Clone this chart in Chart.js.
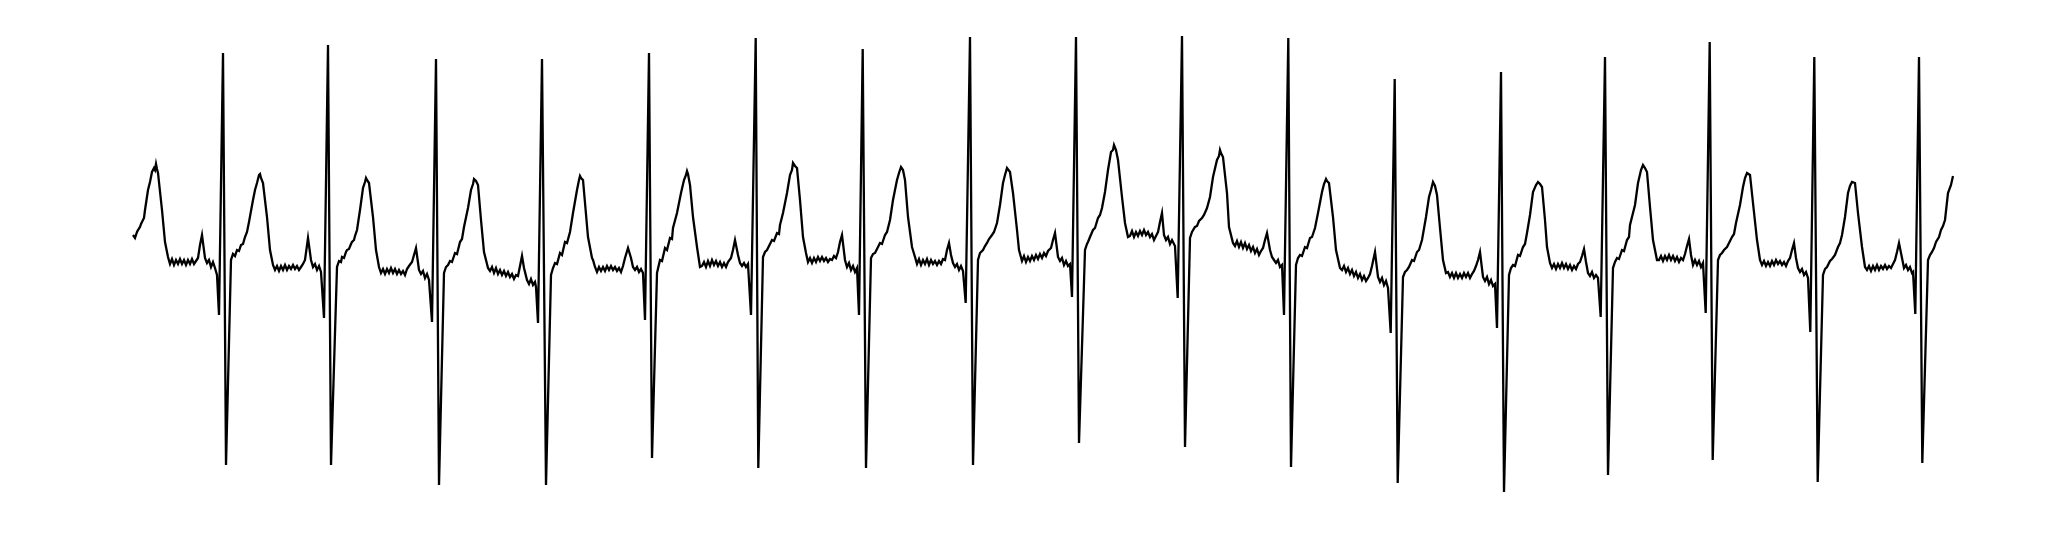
<!DOCTYPE html>
<html>
<head>
    <title>ECG trace</title>
    <script src="https://cdn.jsdelivr.net/npm/chart.js"></script>
    <style>
        html, body {
            margin: 0;
            padding: 0;
            background-color: #ffffff;
        }
        #wrap {
            width: 2046px;
            height: 538px;
        }
    </style>
</head>
<body>
<div id="wrap"><canvas id="ecg" width="2046" height="538"></canvas></div>
<script>
// each point is [sample, amplitude], amplitude 0 ~ isoelectric line
var leadIn = [[0,35],[2,32],[4,38],[5,40],[7,43],[8,46],[9,48],[11,52],[12,60],[15,80],[17,88],[19,98],[21,102],[22,100],[23,106],[24,101],[25,97],[29,60],[32,28],[35,13],[37,6],[39,11],[41,5],[43,10],[45,6],[47,11],[49,6],[51,10],[53,5],[55,10],[57,6],[59,11],[61,6],[63,9],[65,12],[67,25],[69,35],[72,12],[74,7],[76,10],[78,3],[80,8],[82,2],[84,-5],[86,-45],[90,217],[93,-195]];
var cycle01 = [[98,10],[100,16],[102,14],[104,20],[106,19],[108,25],[110,26],[112,33],[114,38],[116,48],[120,70],[122,80],[124,87],[126,95],[127,96],[128,92],[130,87],[134,53],[137,20],[140,5],[142,0],[144,4],[146,-1],[148,4],[150,0],[152,5],[154,0],[156,4],[158,1],[160,5],[162,1],[164,4],[166,0],[168,3],[170,6],[172,10],[175,32],[178,10],[180,3],[182,6],[184,0],[186,4],[188,-2],[191,-48],[195,225],[198,-195]];
var cycle02 = [[204,3],[206,9],[208,8],[209,13],[211,12],[213,18],[214,20],[216,21],[218,26],[219,28],[221,30],[222,34],[224,40],[227,60],[230,82],[232,88],[233,92],[234,90],[236,87],[240,53],[243,20],[246,3],[248,-3],[250,1],[252,-4],[254,1],[256,-3],[258,2],[260,-3],[262,1],[264,-4],[266,0],[268,-4],[270,-1],[272,-5],[274,1],[276,4],[279,8],[281,15],[283,22],[286,0],[288,-4],[290,-1],[292,-8],[294,-4],[296,-10],[299,-52],[303,211],[306,-215]];
var cycle03 = [[311,-3],[313,3],[315,5],[317,9],[319,8],[322,17],[324,16],[326,24],[327,28],[329,31],[331,43],[335,62],[338,80],[340,86],[341,91],[343,89],[345,85],[348,50],[351,18],[355,2],[357,-1],[359,3],[361,-3],[363,2],[365,-4],[367,0],[369,-5],[371,-1],[373,-6],[375,-2],[377,-7],[379,-4],[381,-9],[383,-5],[385,-6],[387,4],[389,14],[391,2],[394,-10],[396,-14],[398,-9],[400,-15],[402,-12],[403,-17],[405,-53],[409,211],[413,-215]];
var cycle04 = [[418,-5],[420,2],[422,7],[424,6],[427,17],[429,15],[432,28],[434,27],[437,38],[440,57],[444,80],[446,90],[447,94],[448,92],[450,90],[455,33],[459,12],[460,10],[462,3],[464,-2],[466,3],[468,-1],[470,3],[472,-1],[474,4],[476,0],[478,4],[480,0],[482,3],[484,-1],[486,2],[488,-2],[490,4],[492,12],[495,22],[498,12],[500,3],[502,0],[504,3],[506,-2],[508,1],[510,-3],[512,-50],[516,217],[519,-188]];
var cycle05 = [[524,-3],[527,10],[529,9],[532,22],[534,20],[537,32],[539,31],[540,42],[544,57],[548,77],[551,90],[553,95],[554,99],[555,96],[557,85],[560,53],[564,23],[567,3],[569,4],[571,8],[573,3],[575,9],[577,4],[579,10],[581,5],[583,9],[585,4],[587,8],[589,3],[591,7],[593,3],[595,8],[598,12],[600,20],[602,30],[605,15],[607,7],[609,4],[611,7],[613,3],[615,6],[618,-45],[622.7,232],[625.3,-198]];
var cycle06 = [[630,13],[632,18],[634,20],[636,24],[639,30],[641,29],[644,37],[646,36],[647,45],[650,57],[654,77],[657,95],[659,100],[660,107],[662,104],[664,102],[667,70],[670,33],[673,17],[675,8],[677,12],[679,7],[681,12],[683,8],[685,13],[687,9],[689,13],[691,9],[693,12],[695,8],[697,11],[699,10],[701,14],[703,12],[705,18],[707,28],[709,35],[712,10],[714,3],[716,7],[718,0],[720,4],[722,-2],[724,2],[726,-45],[729.7,221],[733,-198]];
var cycle07 = [[738,12],[740,16],[742,17],[744,21],[747,27],[749,26],[752,35],[754,38],[757,50],[760,70],[764,90],[766,97],[768,103],[770,100],[772,90],[775,53],[779,23],[782,13],[784,6],[786,11],[788,5],[790,10],[792,6],[794,11],[796,5],[798,10],[800,6],[802,9],[804,5],[806,9],[808,6],[810,11],[812,10],[814,20],[816,27],[818,15],[820,7],[822,3],[824,6],[826,0],[828,4],[830,-1],[832.7,-33],[837,233],[840,-195]];
var cycle08 = [[845,10],[847,17],[850,20],[852,24],[854,27],[856,31],[859,35],[861,38],[864,47],[867,65],[870,87],[872,95],[874,102],[877,98],[880,77],[884,40],[886,20],[889,9],[891,14],[893,8],[895,13],[897,9],[899,14],[901,10],[903,15],[905,11],[907,16],[909,12],[911,17],[913,14],[915,19],[918,22],[920,30],[922,37],[925,13],[927,9],[929,12],[931,5],[933,9],[935,4],[937,6],[939,-27],[943,233],[946,-173]];
var cycle09 = [[952,20],[954,26],[955,28],[957,33],[960,40],[962,42],[965,52],[967,55],[969,62],[972,78],[975,100],[978,118],[980,120],[981,125],[983,120],[985,110],[989,73],[992,47],[995,33],[997,34],[999,39],[1001,33],[1003,38],[1005,34],[1007,39],[1009,35],[1011,40],[1013,35],[1015,38],[1017,33],[1019,36],[1021,30],[1023,34],[1025,38],[1027,48],[1029,57],[1031,35],[1033,30],[1035,33],[1037,26],[1039,30],[1042,24],[1044.7,-28],[1049,234],[1052,-177]];
var cycle10 = [[1057,32],[1059,38],[1062,43],[1064,44],[1066,49],[1069,52],[1071,55],[1074,62],[1077,73],[1080,93],[1084,110],[1086,114],[1087,120],[1088,117],[1090,113],[1094,77],[1096,43],[1100,27],[1102,24],[1104,29],[1106,23],[1108,28],[1110,22],[1112,27],[1114,21],[1116,25],[1118,19],[1120,23],[1122,17],[1124,21],[1126,15],[1128,19],[1130,22],[1132,30],[1134,37],[1137,20],[1139,13],[1141,10],[1143,7],[1145,10],[1147,3],[1149,5],[1151,-45],[1155.3,232],[1158,-197]];
var cycle11 = [[1163,5],[1165,12],[1167,15],[1169,14],[1172,23],[1174,22],[1177,32],[1179,33],[1182,42],[1185,57],[1189,78],[1191,86],[1193,91],[1194,89],[1196,87],[1200,53],[1203,20],[1207,2],[1209,0],[1211,4],[1213,-2],[1215,2],[1217,-4],[1219,0],[1221,-6],[1223,-2],[1225,-8],[1227,-4],[1229,-10],[1231,-6],[1233,-11],[1235,-8],[1237,-4],[1239,4],[1242,18],[1245,-7],[1247,-12],[1249,-8],[1251,-15],[1253,-11],[1255,-18],[1257.7,-63],[1261.7,191],[1264.7,-213]];
var cycle12 = [[1270,-7],[1272,-2],[1274,0],[1276,3],[1279,10],[1281,9],[1284,18],[1286,20],[1289,30],[1293,53],[1296,73],[1298,80],[1300,88],[1302,84],[1304,75],[1307,42],[1310,10],[1313,-3],[1315,-2],[1317,-7],[1319,-3],[1321,-8],[1323,-3],[1325,-8],[1327,-4],[1329,-8],[1331,-3],[1333,-7],[1335,-3],[1337,-8],[1339,-4],[1341,-1],[1343,4],[1345,10],[1347,18],[1350,-7],[1352,-11],[1354,-7],[1356,-14],[1358,-10],[1360,-16],[1362,-14],[1364,-58],[1368,198],[1371,-222]];
var cycle13 = [[1376,-5],[1378,2],[1380,5],[1382,4],[1385,15],[1387,14],[1390,23],[1392,26],[1394,37],[1397,55],[1400,78],[1403,85],[1405,88],[1407,86],[1409,83],[1412,50],[1414,23],[1417,7],[1419,2],[1421,6],[1423,1],[1425,6],[1427,2],[1429,7],[1431,2],[1433,6],[1435,1],[1437,5],[1439,0],[1441,4],[1443,1],[1445,6],[1447,8],[1449,14],[1451,21],[1453,8],[1455,-3],[1457,-6],[1459,-2],[1461,-8],[1463,-5],[1465,-8],[1467.7,-47],[1472,213],[1475,-205]];
var cycle14 = [[1480,2],[1482,8],[1484,12],[1486,11],[1489,20],[1491,19],[1494,30],[1496,33],[1497,45],[1502,65],[1505,87],[1508,100],[1510,105],[1512,102],[1514,98],[1517,63],[1520,30],[1524,10],[1526,10],[1528,14],[1530,9],[1532,14],[1534,10],[1536,15],[1538,10],[1540,14],[1542,9],[1544,13],[1546,8],[1548,12],[1550,10],[1552,16],[1554,24],[1556,31],[1558,15],[1560,5],[1562,10],[1564,5],[1566,9],[1568,3],[1570,7],[1572.7,-43],[1576.7,228],[1579.7,-190]];
var cycle15 = [[1585,10],[1587,15],[1589,17],[1591,20],[1594,23],[1596,27],[1599,33],[1601,36],[1603,47],[1607,65],[1610,83],[1612,92],[1614,97],[1617,95],[1620,67],[1624,30],[1627,10],[1629,5],[1631,9],[1633,4],[1635,8],[1637,4],[1639,9],[1641,5],[1643,10],[1645,6],[1647,9],[1649,5],[1651,8],[1653,4],[1655,9],[1657,12],[1659,20],[1661,27],[1663,12],[1665,2],[1667,-2],[1669,1],[1671,-5],[1673,-2],[1675,-8],[1677.3,-62],[1681.3,213],[1684.7,-212]];
var cycle16 = [[1690,-5],[1692,1],[1694,3],[1697,9],[1699,11],[1702,15],[1705,23],[1707,27],[1709,35],[1712,53],[1715,77],[1717,84],[1719,88],[1722,87],[1725,57],[1729,23],[1732,3],[1734,0],[1736,4],[1738,-1],[1740,4],[1742,0],[1744,5],[1746,0],[1748,4],[1750,1],[1752,5],[1754,1],[1756,4],[1758,2],[1760,6],[1762,10],[1764,18],[1766,27],[1769,12],[1771,2],[1773,5],[1775,0],[1777,3],[1779,-3],[1780,-2],[1782.3,-44],[1786,213],[1789.3,-193]];
var tail = [[1795,10],[1797,15],[1799,18],[1801,22],[1803,28],[1806,33],[1808,40],[1810,44],[1812,50],[1815,77],[1818,85],[1820,94]];

var segments = [leadIn, cycle01, cycle02, cycle03, cycle04, cycle05, cycle06, cycle07, cycle08,
    cycle09, cycle10, cycle11, cycle12, cycle13, cycle14, cycle15, cycle16, tail];

var points = [];
segments.forEach(function(seg) {
    seg.forEach(function(p) {
        points.push({x: p[0], y: p[1]});
    });
});

new Chart(document.getElementById('ecg'), {
    type: 'line',
    data: {
        datasets: [{
            data: points,
            borderColor: '#000000',
            borderWidth: 2.3,
            pointRadius: 0,
            tension: 0,
            fill: false
        }]
    },
    options: {
        responsive: false,
        animation: false,
        plugins: {
            legend: { display: false },
            tooltip: { enabled: false }
        },
        scales: {
            x: { type: 'linear', display: false, min: -133, max: 1913 },
            y: { display: false, min: -268, max: 270 }
        }
    }
});
</script>
</body>
</html>
